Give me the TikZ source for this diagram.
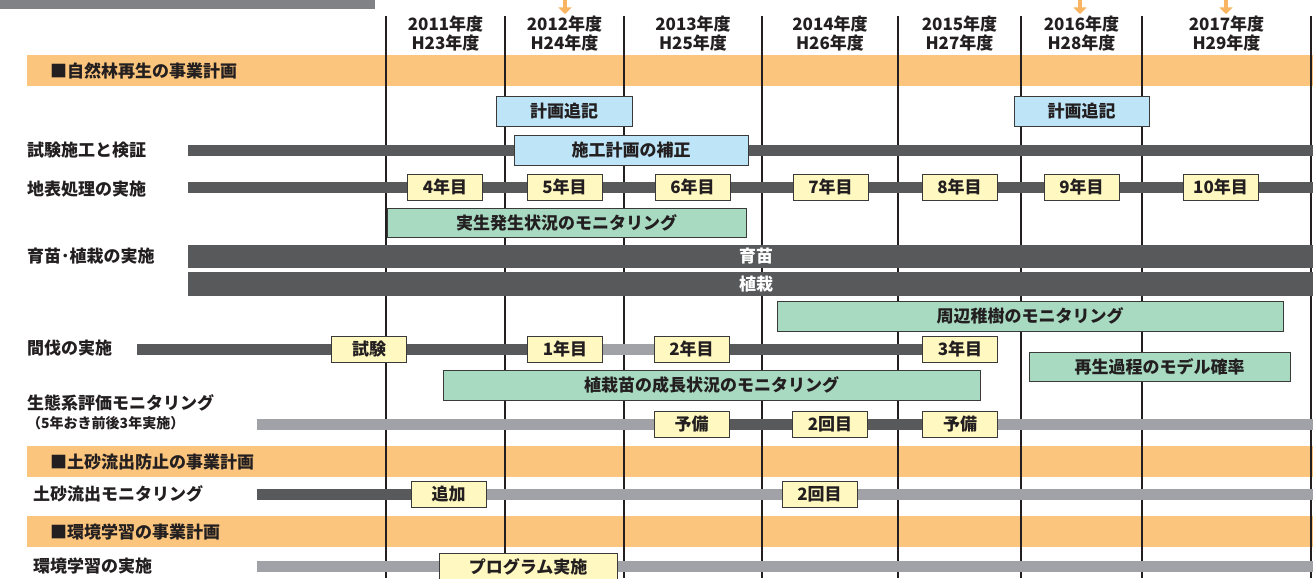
\documentclass[tikz,border=0pt]{standalone}
\usepackage{fontspec}
\setmainfont{Noto Sans CJK JP}
\usetikzlibrary{arrows.meta}
\definecolor{barD}{HTML}{58595B}
\definecolor{barL}{HTML}{A0A2A8}
\definecolor{bandO}{HTML}{FBC57E}
\definecolor{boxBl}{HTML}{BEE5F7}
\definecolor{boxGr}{HTML}{A8D9C1}
\definecolor{boxYe}{HTML}{FFF8C0}
\definecolor{edgeC}{HTML}{3A3A3A}
\definecolor{vlC}{HTML}{231F20}
\definecolor{topG}{HTML}{808285}
\definecolor{arrO}{HTML}{F9B461}
\definecolor{txtC}{HTML}{231F20}
\pgfdeclarelayer{bandL}
\pgfdeclarelayer{lineL}
\pgfdeclarelayer{barLy}
\pgfsetlayers{bandL,lineL,barLy,main}
\newcommand{\bigtxt}{\fontsize{17}{17}\selectfont\bfseries}
\newcommand{\smalltxt}{\fontsize{14}{14}\selectfont\bfseries}
\tikzset{
  boxbase/.style={draw=edgeC, line width=0.9pt, inner sep=0pt, font=\bigtxt, text=txtC},
  ybox/.style={boxbase, fill=boxYe, minimum width=75pt, minimum height=26pt},
  bbox/.style={boxbase, fill=boxBl, minimum height=30pt},
  gbox/.style={boxbase, fill=boxGr, minimum height=29pt},
  dbar/.style={draw=barD, line width=11pt},
  lbar/.style={draw=barL, line width=11pt},
  widebar/.style={fill=barD, inner sep=0pt, minimum height=23.5pt, minimum width=1125pt},
  wtext/.style={text=white, font=\bigtxt, inner sep=0pt},
  rowlbl/.style={anchor=west, inner sep=0pt, font=\bigtxt, text=txtC},
  yearlbl/.style={inner sep=0pt, font=\bigtxt, text=txtC},
  bandtxt/.style={anchor=west, inner sep=0pt, font=\bigtxt, text=txtC},
  vline/.style={draw=vlC, line width=1.5pt},
  downarr/.style={draw=arrO, line width=4.5pt, -{Triangle[width=13pt,length=6.5pt]}},
}
\begin{document}
\begin{tikzpicture}[x=1pt,y=-1pt]
\useasboundingbox (0,0) rectangle (1313,578);

% ---------- background: top bar, bands, arrows ----------
\begin{pgfonlayer}{bandL}
  \fill[topG] (0,0) rectangle (375,9);
  \fill[bandO] (27,55) rectangle (1313,86);
  \fill[bandO] (27,446) rectangle (1313,477);
  \fill[bandO] (27,516) rectangle (1313,547);
\end{pgfonlayer}
\coordinate (a1s) at (565,0);    \coordinate (a1e) at (565,14);
\coordinate (a2s) at (1080,0);   \coordinate (a2e) at (1080,14);
\coordinate (a3s) at (1226,0);   \coordinate (a3e) at (1226,14);
\draw[downarr] (a1s) -- (a1e);
\draw[downarr] (a2s) -- (a2e);
\draw[downarr] (a3s) -- (a3e);

% ---------- grid lines ----------
\begin{pgfonlayer}{lineL}
  \foreach \x in {386,505,624,762,898,1021,1142,1311}
    \draw[vline] (\x,16) -- (\x,578);
\end{pgfonlayer}

% ---------- year labels ----------
\node[yearlbl] (y11a) at (445.5,24) {2011年度};
\node[yearlbl] (y11b) at (445.5,43) {H23年度};
\node[yearlbl] (y12a) at (564.5,24) {2012年度};
\node[yearlbl] (y12b) at (564.5,43) {H24年度};
\node[yearlbl] (y13a) at (693,24) {2013年度};
\node[yearlbl] (y13b) at (693,43) {H25年度};
\node[yearlbl] (y14a) at (830,24) {2014年度};
\node[yearlbl] (y14b) at (830,43) {H26年度};
\node[yearlbl] (y15a) at (959.5,24) {2015年度};
\node[yearlbl] (y15b) at (959.5,43) {H27年度};
\node[yearlbl] (y16a) at (1081.5,24) {2016年度};
\node[yearlbl] (y16b) at (1081.5,43) {H28年度};
\node[yearlbl] (y17a) at (1226.5,24) {2017年度};
\node[yearlbl] (y17b) at (1226.5,43) {H29年度};

% ---------- band headers ----------
\node[bandtxt] (h1) at (50,71) {■自然林再生の事業計画};
\node[bandtxt] (h2) at (50,462) {■土砂流出防止の事業計画};
\node[bandtxt] (h3) at (50,532) {■環境学習の事業計画};

% ---------- row labels ----------
\node[rowlbl] (l1) at (27,150) {試験施工と検証};
\node[rowlbl] (l2) at (27,189) {地表処理の実施};
\node[rowlbl] (l3) at (27,256) {育苗･植栽の実施};
\node[rowlbl] (l4) at (27,348) {間伐の実施};
\node[rowlbl] (l5) at (27,403) {生態系評価モニタリング};
\node[rowlbl, font=\smalltxt] (l5b) at (27,423) {（5年おき前後3年実施）};
\node[rowlbl] (l6) at (33,494) {土砂流出モニタリング};
\node[rowlbl] (l7) at (33,566) {環境学習の実施};

% ---------- boxes ----------
\node[bbox, minimum width=136pt] (k1) at (564,111) {計画追記};
\node[bbox, minimum width=135pt] (k2) at (1081.5,111) {計画追記};
\node[bbox, minimum width=234pt] (sh) at (631,150.5) {施工計画の補正};

\node[ybox] (n4) at (445,187.5) {4年目};
\node[ybox] (n5) at (564.5,187.5) {5年目};
\node[ybox] (n6) at (692.5,187.5) {6年目};
\node[ybox] (n7) at (830.5,187.5) {7年目};
\node[ybox] (n8) at (959.5,187.5) {8年目};
\node[ybox] (n9) at (1081.5,187.5) {9年目};
\node[ybox] (n10) at (1220.5,187.5) {10年目};

\node[gbox, minimum width=359pt] (ms) at (566.5,222.5) {実生発生状況のモニタリング};

\node[widebar] (ik) at (750.5,256.5) {};
\node[wtext] (ikt) at (756,256.5) {育苗};
\node[widebar] (sk) at (750.5,284) {};
\node[wtext] (skt) at (756,284) {植栽};

\node[gbox, minimum width=506pt, minimum height=30pt] (sj) at (1030,316) {周辺稚樹のモニタリング};

\node[ybox] (kt) at (369,349.5) {試験};
\node[ybox] (k1y) at (565,349.5) {1年目};
\node[ybox] (k2y) at (691.5,349.5) {2年目};
\node[ybox] (k3y) at (960,349.5) {3年目};

\node[gbox, minimum width=261pt] (sm) at (1159.5,366.5) {再生過程のモデル確率};
\node[gbox, minimum width=537pt, minimum height=30pt] (sn) at (711.5,385) {植栽苗の成長状況のモニタリング};

\node[ybox] (e1) at (691.5,424.5) {予備};
\node[ybox] (e2) at (830,424.5) {2回目};
\node[ybox] (e3) at (960,424.5) {予備};

\node[ybox] (d1) at (448.5,494.5) {追加};
\node[ybox] (d2) at (819.5,494.5) {2回目};

\node[ybox, minimum width=178pt] (pg) at (528,566.5) {プログラム実施};

% ---------- bar ends ----------
\coordinate (r1s) at (188,150.5);  \coordinate (r1e) at (1313,150.5);
\coordinate (r2s) at (188,187.5);  \coordinate (r2e) at (1313,187.5);
\coordinate (r4s) at (137,349.5);
\coordinate (r5s) at (257,424.5);  \coordinate (r5e) at (1313,424.5);
\coordinate (r6s) at (257,494.5);  \coordinate (r6e) at (1313,494.5);
\coordinate (r7s) at (257,566.5);  \coordinate (r7e) at (1313,566.5);

% ---------- bars ----------
\begin{pgfonlayer}{barLy}
  \draw[dbar] (r1s) -- (r1e);
  \draw[dbar] (r2s) -- (r2e);
  \draw[dbar] (r4s) -- (kt.west);
  \draw[dbar] (kt.east) -- (k1y.west);
  \draw[lbar] (k1y.east) -- (k2y.west);
  \draw[dbar] (k2y.east) -- (k3y.west);
  \draw[lbar] (r5s) -- (e1.west);
  \draw[dbar] (e1.east) -- (e2.west);
  \draw[dbar] (e2.east) -- (e3.west);
  \draw[lbar] (e3.east) -- (r5e);
  \draw[dbar] (r6s) -- (d1.west);
  \draw[lbar] (d1.east) -- (r6e);
  \draw[lbar] (r7s) -- (r7e);
\end{pgfonlayer}
\end{tikzpicture}
\end{document}
